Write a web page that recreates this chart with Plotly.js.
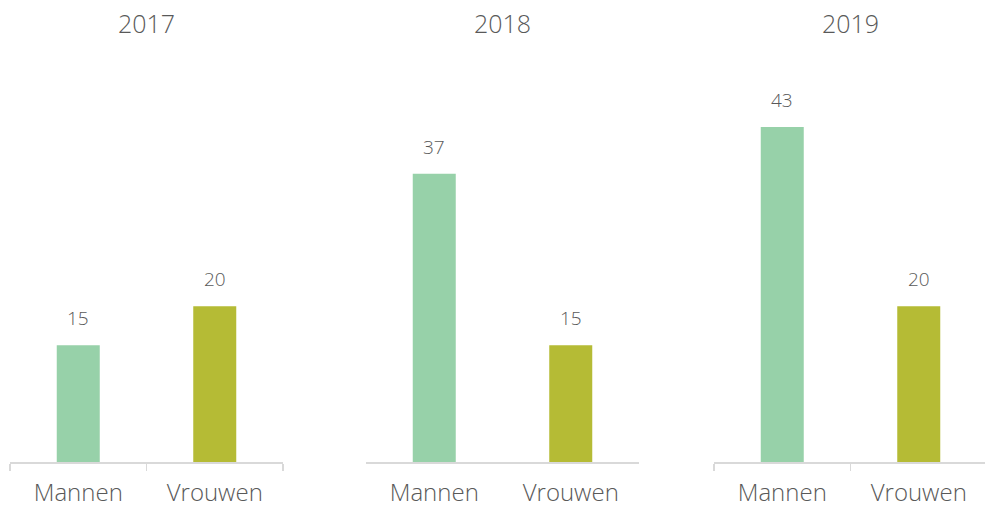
<!DOCTYPE html>
<html>
<head>
<meta charset="utf-8">
<script src="https://cdn.plot.ly/plotly-3.0.1.min.js"></script>
<style>html,body{margin:0;padding:0;background:#fff;}#chart{width:985px;height:507px;}</style>
</head>
<body>
<div id="chart"></div>
<script>
var years = ["2017", "2018", "2019"];
var categories = ["Mannen", "Vrouwen"];
var mannen = [15, 37, 43];
var vrouwen = [20, 15, 20];
var barColors = ["#97D1A9", "#B5BB35"];

var W = 985;
var FONT = "'Open Sans', Lato, sans-serif";
var TXT = "#595959";
var domains = [[10 / W, 283 / W], [366 / W, 639 / W], [714 / W, 1]];
var ranges = [[-0.5, 1.5], [-0.5, 1.5], [-0.5, -0.5 + 271 / 136.5]];
var showTicks = [true, false, true];

var data = [];
var annotations = [];
var layout = {
  width: 985, height: 507,
  margin: {l: 0, r: 0, t: 0, b: 45},
  paper_bgcolor: "#fff", plot_bgcolor: "#fff",
  showlegend: false,
  bargap: 0.685,
  font: {family: FONT, color: TXT},
  annotations: annotations
};

years.forEach(function (yr, i) {
  var sfx = i === 0 ? "" : String(i + 1);
  var vals = [mannen[i], vrouwen[i]];
  data.push({
    type: "bar",
    x: categories,
    y: vals,
    xaxis: "x" + sfx,
    yaxis: "y" + sfx,
    marker: {color: barColors},
    hoverinfo: "none"
  });
  layout["xaxis" + sfx] = {
    domain: domains[i],
    range: ranges[i],
    anchor: "y" + sfx,
    showline: true,
    linecolor: "#D9D9D9",
    linewidth: 1.5,
    ticks: showTicks[i] ? "outside" : "",
    tickson: "boundaries",
    ticklen: 7,
    tickcolor: "#D9D9D9",
    tickwidth: 1.5,
    ticklabelstandoff: 9,
    showgrid: false,
    zeroline: false,
    tickfont: {family: FONT, size: 24, color: TXT, weight: 300},
    fixedrange: true
  };
  layout["yaxis" + sfx] = {
    domain: [0, 1],
    range: [0, 59.3],
    anchor: "x" + sfx,
    visible: false,
    showgrid: false,
    zeroline: false,
    fixedrange: true
  };
  annotations.push({
    text: yr,
    xref: "paper", yref: "paper",
    x: (domains[i][0] + (domains[i][0] + 273 / W)) / 2,
    y: 1, yanchor: "middle", yshift: -22.5,
    xanchor: "center",
    showarrow: false,
    font: {family: FONT, size: 25, color: TXT, weight: 300}
  });
  vals.forEach(function (v, j) {
    annotations.push({
      text: String(v),
      xref: "x" + sfx, yref: "y" + sfx,
      x: categories[j], y: v,
      xanchor: "center", yanchor: "bottom",
      yshift: 12,
      showarrow: false,
      font: {family: FONT, size: 19, color: TXT, weight: 300}
    });
  });
});

Plotly.newPlot("chart", data, layout, {staticPlot: true, displayModeBar: false});
</script>
</body>
</html>
